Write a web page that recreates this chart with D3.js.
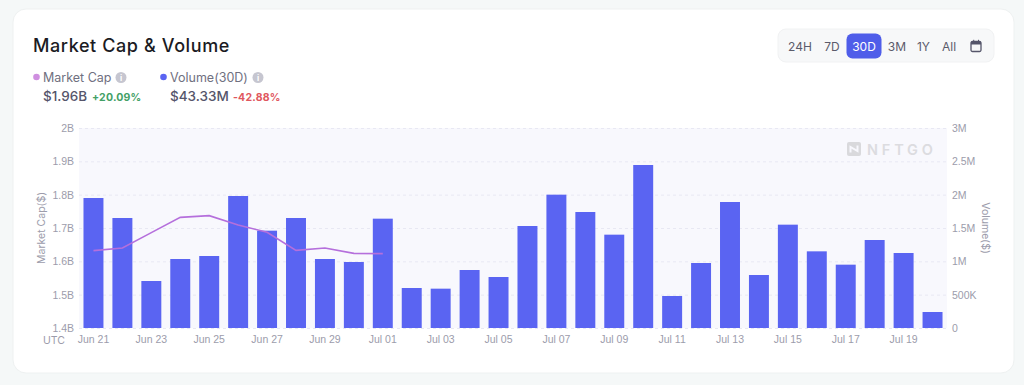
<!DOCTYPE html>
<html>
<head>
<meta charset="utf-8">
<script src="https://cdn.jsdelivr.net/npm/d3@7"></script>
<style>
    html, body { margin: 0; padding: 0; background: #f5f8f8; overflow: hidden; }
    svg { display: block; font-family: Inter, "Noto Sans", sans-serif; }
    .tick-label { font-size: 10.5px; fill: #9c9cab; }
    .axis path, .axis line { display: none; }
</style>
</head>
<body>
<svg id="chart" width="1024" height="385"></svg>
<script>
const dates = ['Jun 21', 'Jun 22', 'Jun 23', 'Jun 24', 'Jun 25', 'Jun 26', 'Jun 27', 'Jun 28', 'Jun 29', 'Jun 30',
    'Jul 01', 'Jul 02', 'Jul 03', 'Jul 04', 'Jul 05', 'Jul 06', 'Jul 07', 'Jul 08', 'Jul 09', 'Jul 10',
    'Jul 11', 'Jul 12', 'Jul 13', 'Jul 14', 'Jul 15', 'Jul 16', 'Jul 17', 'Jul 18', 'Jul 19', 'Jul 20'];
const volume = [1950000, 1650000, 705000, 1035000, 1080000, 1980000, 1460000, 1650000, 1035000, 990000,
    1640000, 600000, 590000, 870000, 765000, 1530000, 2000000, 1740000, 1400000, 2445000,
    480000, 975000, 1890000, 795000, 1550000, 1150000, 950000, 1320000, 1125000, 240000];
// market cap line stops at Jul 01
const marketCap = [1.632e9, 1.640e9, 1.686e9, 1.732e9, 1.737e9, 1.709e9, 1.687e9, 1.633e9, 1.640e9, 1.624e9, 1.623e9];
const capTicks = [1.4e9, 1.5e9, 1.6e9, 1.7e9, 1.8e9, 1.9e9, 2e9];
const volTicks = [0, 500000, 1000000, 1500000, 2000000, 2500000, 3000000];
const ranges = ['24H', '7D', '30D', '3M', '1Y', 'All'];

const MARGIN = { top: 128, right: 77, bottom: 57, left: 79 };
const width = 1024, height = 385;

const $svg = d3.select('#chart');

// card
$svg.append('rect')
    .attr('x', 13).attr('y', 9)
    .attr('width', 1001).attr('height', 364)
    .attr('rx', 13)
    .attr('fill', '#fff')
    .attr('stroke', '#eef1f1');

// header
$svg.append('text')
    .attr('x', 33).attr('y', 52)
    .attr('font-size', 18).attr('font-weight', 500)
    .attr('letter-spacing', 0.6)
    .attr('fill', '#1b1b23')
    .text('Market Cap & Volume');

function legendItem(x, color, label, infoX, value, change, changeX, changeColor) {
    const g = $svg.append('g');
    g.append('circle').attr('cx', x + 3.5).attr('cy', 77).attr('r', 3.3).attr('fill', color);
    g.append('text').attr('x', x + 10).attr('y', 81.5)
        .attr('font-size', 12.5).attr('fill', '#70707f').text(label);
    g.append('circle').attr('cx', infoX).attr('cy', 77.5).attr('r', 5.5).attr('fill', '#c6c6d0');
    g.append('text').attr('x', infoX).attr('y', 80.5)
        .attr('text-anchor', 'middle').attr('font-size', 8).attr('font-weight', 700)
        .attr('fill', '#fff').text('i');
    g.append('text').attr('x', x + 10).attr('y', 101)
        .attr('font-size', 13.5).attr('font-weight', 500).attr('fill', '#55556a').text(value);
    g.append('text').attr('x', changeX).attr('y', 101)
        .attr('font-size', 10.5).attr('font-weight', 700).attr('letter-spacing', 0.2)
        .attr('fill', changeColor).text(change);
}
legendItem(33, '#cf8fe0', 'Market Cap', 121, '$1.96B', '+20.09%', 92, '#43a066');
legendItem(160, '#5a64f2', 'Volume(30D)', 258, '$43.33M', '-42.88%', 233, '#e0575e');

// range buttons
$svg.append('rect')
    .attr('x', 778).attr('y', 29).attr('width', 216).attr('height', 33).attr('rx', 8)
    .attr('fill', '#f7f8f9').attr('stroke', '#f1f2f3');
$svg.append('rect')
    .attr('x', 846.5).attr('y', 33.5).attr('width', 35).attr('height', 25).attr('rx', 6)
    .attr('fill', '#4f5de9');
const btnX = [800, 832, 864, 897, 923.5, 949];
$svg.selectAll('.range')
    .data(ranges)
    .enter().append('text')
    .attr('class', 'range')
    .attr('x', (d, i) => btnX[i]).attr('y', 50.5)
    .attr('text-anchor', 'middle').attr('font-size', 12)
    .attr('fill', d => d === '30D' ? '#fff' : '#5b5b6b')
    .text(d => d);
// calendar icon
const $cal = $svg.append('g').attr('transform', 'translate(976,46)');
$cal.append('rect').attr('x', -5).attr('y', -4.5).attr('width', 10).attr('height', 10).attr('rx', 1.5)
    .attr('fill', 'none').attr('stroke', '#55556a').attr('stroke-width', 1.3);
$cal.append('rect').attr('x', -5).attr('y', -4.5).attr('width', 10).attr('height', 3).attr('fill', '#55556a');
$cal.selectAll('.pin').data([-2.8, 2]).enter().append('rect')
    .attr('x', d => d).attr('y', -6.2).attr('width', 1).attr('height', 2).attr('fill', '#55556a');

// plot
const boundedWidth = width - MARGIN.left - MARGIN.right,
    boundedHeight = height - MARGIN.top - MARGIN.bottom;

const xScale = d3.scaleBand()
    .domain(dates)
    .range([MARGIN.left, MARGIN.left + boundedWidth])
    .paddingInner(0.31)
    .paddingOuter(0.155);
const yCap = d3.scaleLinear().domain([1.4e9, 2e9]).range([MARGIN.top + boundedHeight, MARGIN.top]);
const yVol = d3.scaleLinear().domain([0, 3e6]).range([MARGIN.top + boundedHeight, MARGIN.top]);

$svg.append('rect')
    .attr('x', MARGIN.left).attr('y', MARGIN.top)
    .attr('width', boundedWidth).attr('height', boundedHeight)
    .attr('fill', '#f8f8fd');

$svg.selectAll('.grid')
    .data(capTicks)
    .enter().append('line')
    .attr('class', 'grid')
    .attr('x1', MARGIN.left).attr('x2', MARGIN.left + boundedWidth)
    .attr('y1', d => yCap(d) + 0.5).attr('y2', d => yCap(d) + 0.5)
    .attr('stroke', '#e8e8f3')
    .attr('stroke-dasharray', '3,3');

// watermark
const $mark = $svg.append('g').attr('transform', 'translate(847,142)');
$mark.append('rect').attr('width', 14).attr('height', 14).attr('rx', 2).attr('fill', '#d9d9dc');
$mark.append('path').attr('d', 'M3.5,10.5V5L10.5,9V3.5')
    .attr('fill', 'none').attr('stroke', '#f8f8fd').attr('stroke-width', 2);
$mark.append('text').attr('x', 20).attr('y', 12.5)
    .attr('font-size', 14.5).attr('font-weight', 600).attr('letter-spacing', 3.8)
    .attr('fill', '#dcdce0')
    .text('NFTGO');

// bars
$svg.selectAll('.bar')
    .data(volume)
    .enter().append('rect')
    .attr('class', 'bar')
    .attr('x', (d, i) => xScale(dates[i]))
    .attr('y', d => yVol(d))
    .attr('width', xScale.bandwidth())
    .attr('height', d => yVol(0) - yVol(d))
    .attr('fill', '#5a64f2');

// market cap line
const lineGen = d3.line()
    .x((d, i) => xScale(dates[i]) + xScale.bandwidth() / 2)
    .y(d => yCap(d));
$svg.append('path')
    .datum(marketCap)
    .attr('d', lineGen)
    .attr('fill', 'none')
    .attr('stroke', '#b56fdc')
    .attr('stroke-width', 1.6);

// axes
const formatCap = d => (d / 1e9) + 'B';
const formatVol = d => d === 0 ? '0' : d >= 1e6 ? (d / 1e6) + 'M' : (d / 1e3) + 'K';

$svg.append('g')
    .attr('class', 'axis')
    .attr('transform', `translate(${MARGIN.left}, 0)`)
    .call(d3.axisLeft(yCap).tickValues(capTicks).tickFormat(formatCap).tickSize(0).tickPadding(5))
    .call(g => g.selectAll('text').attr('class', 'tick-label'));

$svg.append('g')
    .attr('class', 'axis')
    .attr('transform', `translate(${MARGIN.left + boundedWidth}, 0)`)
    .call(d3.axisRight(yVol).tickValues(volTicks).tickFormat(formatVol).tickSize(0).tickPadding(5))
    .call(g => g.selectAll('text').attr('class', 'tick-label'));

$svg.append('g')
    .attr('class', 'axis')
    .attr('transform', `translate(0, ${MARGIN.top + boundedHeight})`)
    .call(d3.axisBottom(xScale).tickValues(dates.filter((d, i) => i % 2 === 0)).tickSize(0).tickPadding(8))
    .call(g => g.selectAll('text').attr('class', 'tick-label'));

$svg.append('text')
    .attr('class', 'tick-label')
    .attr('x', 43).attr('y', 344)
    .text('UTC');

$svg.append('text')
    .attr('class', 'tick-label')
    .attr('transform', 'translate(45, 228) rotate(-90)')
    .attr('text-anchor', 'middle')
    .text('Market Cap($)');
$svg.append('text')
    .attr('class', 'tick-label')
    .attr('transform', 'translate(982, 228) rotate(90)')
    .attr('text-anchor', 'middle')
    .text('Volume($)');
</script>
</body>
</html>
